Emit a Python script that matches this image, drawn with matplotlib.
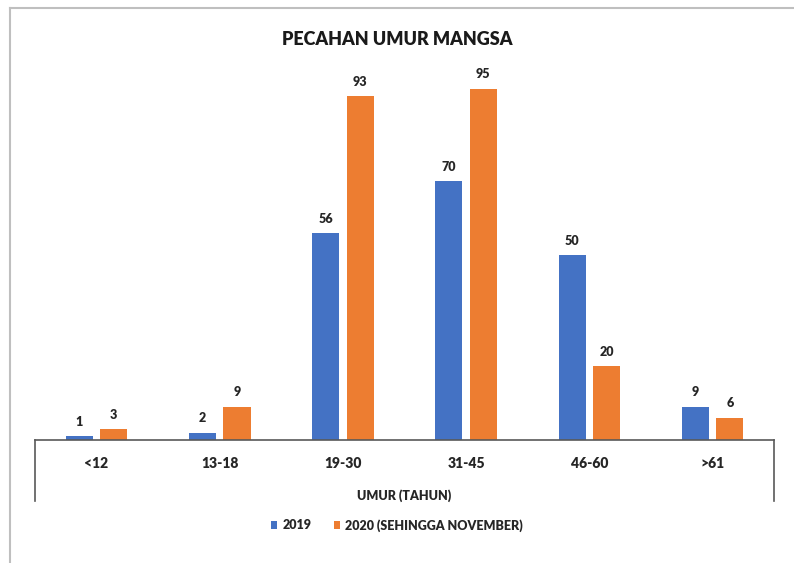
import numpy as np
import matplotlib.pyplot as plt
from matplotlib.lines import Line2D

categories = ['<12', '13-18', '19-30', '31-45', '46-60', '>61']
v2019 = [1, 2, 56, 70, 50, 9]
v2020 = [3, 9, 93, 95, 20, 6]

blue = '#4472C4'
orange = '#ED7D31'
txt = '#262626'
wt = 'heavy'

plt.rcParams['font.family'] = ['Lato', 'DejaVu Sans']

fig = plt.figure(figsize=(7.94, 5.63), dpi=100)
ax = fig.add_axes([0.044, 0.2185, 0.931, 0.657])

x = np.arange(len(categories))
w = 0.22
b1 = ax.bar(x - 0.14, v2019, w, color=blue, label='2019')
b2 = ax.bar(x + 0.14, v2020, w, color=orange, label='2020 (SEHINGGA NOVEMBER)')

for bars, vals in [(b1, v2019), (b2, v2020)]:
    for r, v in zip(bars, vals):
        ax.annotate(str(v), (r.get_x() + r.get_width() / 2, v), xytext=(0, 6),
                    textcoords='offset points', ha='center', va='bottom',
                    fontsize=9, fontweight=wt, color=txt)

ax.set_xlim(-0.5, len(categories) - 0.5)
ax.set_ylim(0, 100)
ax.set_yticks([])
ax.set_xticks(x)
ax.set_xticklabels(categories, fontsize=10, fontweight=wt, color=txt)
ax.tick_params(axis='x', length=0, pad=12)
for s in ['top', 'right', 'left']:
    ax.spines[s].set_visible(False)
ax.spines['bottom'].set_color('#595959')
ax.spines['bottom'].set_linewidth(1.2)

# end lines below the axis
for xa in [0, 1]:
    ax.plot([xa, xa], [0, -0.165], transform=ax.transAxes, color='#595959',
            lw=1.2, clip_on=False)

ax.set_xlabel('UMUR (TAHUN)', fontsize=9, fontweight=wt, color=txt, labelpad=14)
fig.text(0.5, 0.93, 'PECAHAN UMUR MANGSA', ha='center', va='center',
         fontsize=13, fontweight=wt, color='#1a1a1a')

leg = fig.legend(handles=[b1, b2], loc='center', bbox_to_anchor=(0.5, 0.067),
                 ncol=2, frameon=False, handlelength=0.5, handleheight=0.5,
                 columnspacing=1.8, handletextpad=0.4,
                 prop={'weight': wt, 'size': 9})
for t in leg.get_texts():
    t.set_color(txt)

# outer border (top and left)
fig.add_artist(Line2D([10 / 794, 1], [1 - 8 / 563, 1 - 8 / 563], color='#bfbfbf', lw=1.5))
fig.add_artist(Line2D([10 / 794, 10 / 794], [0, 1 - 8 / 563], color='#bfbfbf', lw=1.5))

fig.savefig('out.png', dpi=100)
